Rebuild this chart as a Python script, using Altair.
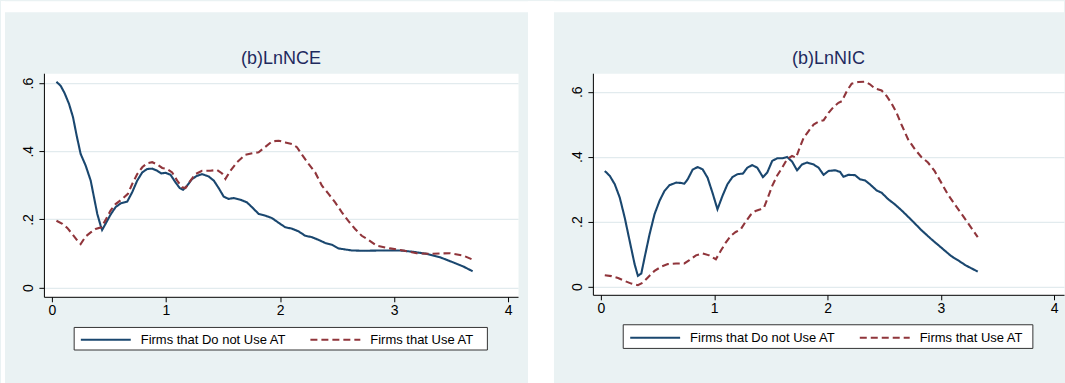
import altair as alt
import pandas as pd

SERIES = ["Firms that Do not Use AT", "Firms that Use AT"]
COLORS = ["#1a476f", "#90353b"]
BG = "#eaf2f3"
FONT = "Liberation Sans"

# ---- Panel 1: (b)LnNCE ----
nce_no_x = [0.04, 0.077, 0.112, 0.15, 0.185, 0.217, 0.252, 0.296, 0.34, 0.369, 0.398, 0.427, 0.44, 0.47,
            0.514, 0.558, 0.602, 0.66, 0.704, 0.748, 0.792, 0.835, 0.879, 0.923, 0.958, 0.996, 1.04, 1.083,
            1.121, 1.15, 1.185, 1.229, 1.273, 1.316, 1.375, 1.419, 1.462, 1.506, 1.55, 1.594, 1.652, 1.71,
            1.754, 1.813, 1.871, 1.929, 1.988, 2.046, 2.104, 2.162, 2.221, 2.279, 2.337, 2.396, 2.454, 2.512,
            2.57, 2.629, 2.731, 2.906, 3.052, 3.168, 3.285, 3.402, 3.518, 3.606, 3.688]
nce_no_y = [0.604, 0.592, 0.570, 0.539, 0.5, 0.446, 0.392, 0.358, 0.314, 0.265, 0.216, 0.182, 0.169, 0.187,
            0.214, 0.236, 0.247, 0.252, 0.28, 0.314, 0.338, 0.348, 0.349, 0.343, 0.335, 0.337, 0.331, 0.309,
            0.292, 0.287, 0.299, 0.319, 0.328, 0.333, 0.326, 0.314, 0.292, 0.267, 0.26, 0.263, 0.258, 0.25,
            0.236, 0.216, 0.211, 0.204, 0.19, 0.177, 0.173, 0.165, 0.152, 0.148, 0.14, 0.131, 0.126, 0.115,
            0.112, 0.109, 0.108, 0.109, 0.109, 0.105, 0.099, 0.089, 0.074, 0.062, 0.048]
nce_at_x = [0.04, 0.092, 0.135, 0.179, 0.223, 0.252, 0.296, 0.34, 0.383, 0.433, 0.47, 0.514, 0.558, 0.617,
            0.666, 0.704, 0.748, 0.792, 0.835, 0.879, 0.923, 0.967, 1.01, 1.054, 1.098, 1.142, 1.171, 1.215,
            1.258, 1.316, 1.389, 1.448, 1.492, 1.521, 1.565, 1.623, 1.696, 1.769, 1.812, 1.871, 1.929, 1.988,
            2.046, 2.104, 2.148, 2.192, 2.25, 2.308, 2.367, 2.425, 2.483, 2.542, 2.6, 2.658, 2.716, 2.775,
            2.847, 2.964, 3.081, 3.197, 3.314, 3.489, 3.606, 3.688]
nce_at_y = [0.196, 0.187, 0.175, 0.157, 0.138, 0.128, 0.15, 0.162, 0.172, 0.177, 0.198, 0.226, 0.245, 0.26,
            0.275, 0.304, 0.333, 0.353, 0.365, 0.368, 0.361, 0.351, 0.348, 0.338, 0.314, 0.294, 0.292, 0.314,
            0.333, 0.343, 0.343, 0.345, 0.335, 0.319, 0.343, 0.368, 0.39, 0.395, 0.397, 0.413, 0.429, 0.431,
            0.426, 0.421, 0.412, 0.39, 0.363, 0.338, 0.299, 0.275, 0.25, 0.221, 0.195, 0.172, 0.152, 0.14,
            0.123, 0.115, 0.109, 0.101, 0.099, 0.101, 0.094, 0.082]

# ---- Panel 2: (b)LnNIC ----
nic_no_x = [0.035, 0.079, 0.123, 0.167, 0.211, 0.254, 0.298, 0.327, 0.357, 0.386, 0.43, 0.474, 0.518, 0.561,
            0.605, 0.664, 0.708, 0.737, 0.766, 0.81, 0.854, 0.898, 0.942, 0.985, 1.029, 1.073, 1.117, 1.161,
            1.205, 1.254, 1.292, 1.336, 1.38, 1.43, 1.468, 1.512, 1.556, 1.6, 1.643, 1.687, 1.731, 1.775,
            1.819, 1.877, 1.921, 1.965, 2.009, 2.067, 2.111, 2.14, 2.184, 2.243, 2.287, 2.331, 2.374, 2.433,
            2.477, 2.535, 2.594, 2.652, 2.74, 2.827, 2.915, 3.003, 3.09, 3.15, 3.22, 3.325]
nic_no_y = [0.356, 0.341, 0.315, 0.274, 0.212, 0.141, 0.069, 0.033, 0.04, 0.089, 0.161, 0.223, 0.264, 0.294,
            0.312, 0.32, 0.319, 0.317, 0.33, 0.36, 0.368, 0.361, 0.335, 0.289, 0.238, 0.279, 0.315, 0.337,
            0.346, 0.348, 0.366, 0.374, 0.366, 0.337, 0.351, 0.387, 0.395, 0.395, 0.399, 0.385, 0.358, 0.376,
            0.382, 0.376, 0.366, 0.344, 0.356, 0.358, 0.353, 0.338, 0.344, 0.343, 0.33, 0.327, 0.315, 0.296,
            0.289, 0.269, 0.253, 0.235, 0.205, 0.174, 0.146, 0.12, 0.094, 0.081, 0.065, 0.046]
nic_at_x = [0.035, 0.094, 0.152, 0.211, 0.269, 0.327, 0.371, 0.415, 0.474, 0.532, 0.591, 0.664, 0.737, 0.781,
            0.839, 0.898, 0.956, 1.015, 1.058, 1.102, 1.146, 1.19, 1.234, 1.278, 1.322, 1.365, 1.409, 1.439,
            1.468, 1.512, 1.556, 1.6, 1.643, 1.687, 1.722, 1.76, 1.789, 1.833, 1.877, 1.921, 1.965, 2.009,
            2.053, 2.096, 2.126, 2.17, 2.213, 2.272, 2.331, 2.374, 2.418, 2.477, 2.521, 2.565, 2.609, 2.652,
            2.711, 2.77, 2.827, 2.886, 2.944, 3.003, 3.061, 3.12, 3.18, 3.25, 3.325]
nic_at_y = [0.035, 0.032, 0.026, 0.017, 0.009, 0.004, 0.012, 0.028, 0.048, 0.061, 0.069, 0.071, 0.071, 0.081,
            0.096, 0.102, 0.096, 0.084, 0.11, 0.135, 0.156, 0.168, 0.176, 0.2, 0.221, 0.233, 0.238, 0.243,
            0.269, 0.31, 0.342, 0.366, 0.392, 0.402, 0.397, 0.433, 0.458, 0.479, 0.499, 0.508, 0.512, 0.535,
            0.553, 0.566, 0.571, 0.602, 0.625, 0.63, 0.631, 0.623, 0.61, 0.604, 0.587, 0.564, 0.535, 0.499,
            0.453, 0.423, 0.399, 0.382, 0.356, 0.32, 0.284, 0.254, 0.225, 0.19, 0.152]

X_TICKS = [0, 1, 2, 3, 4]
Y_TICKS = [0, 0.2, 0.4, 0.6]
GRID = "#e2ebee"


def make_df(xa, ya, xb, yb):
    a = pd.DataFrame({"x": xa, "y": ya, "series": SERIES[0]})
    b = pd.DataFrame({"x": xb, "y": yb, "series": SERIES[1]})
    return pd.concat([a, b], ignore_index=True)


ONE = pd.DataFrame({"k": [0]})


def box(x1, x2, y1, y2, fill, stroke="transparent", sw=0):
    return alt.Chart(ONE).mark_rect(fill=fill, stroke=stroke, strokeWidth=sw, clip=False).encode(
        x=alt.value(x1), x2=alt.value(x2), y=alt.value(y1), y2=alt.value(y2)
    )


def legend(lx, ly):
    return alt.Legend(title=None, orient="none", legendX=lx, legendY=ly,
                      direction="horizontal", columns=2, columnPadding=20,
                      symbolType="stroke", symbolSize=2500, symbolStrokeWidth=2,
                      labelFontSize=13, labelFont=FONT, labelColor="#000000",
                      labelOffset=9, padding=0)


def panel(df, title, ydom, w, h, lx, ly, boxcoords, toffset, extra=()):
    lines = alt.Chart(df).mark_line(strokeWidth=2.1).encode(
        x=alt.X("x:Q", title=None,
                scale=alt.Scale(domain=[-0.07, 4.086], nice=False, zero=False),
                axis=alt.Axis(values=X_TICKS, format="d", grid=False, labelPadding=2,
                              labelFontSize=14, labelFont=FONT, labelColor="#000000")),
        y=alt.Y("y:Q", title=None,
                scale=alt.Scale(domain=ydom, nice=False, zero=False),
                axis=alt.Axis(values=Y_TICKS, grid=True, labelAngle=270, labelAlign="center",
                              labelBaseline="bottom", labelPadding=3,
                              labelFontSize=14, labelFont=FONT, labelColor="#000000",
                              labelExpr="datum.value == 0 ? '0' : '.' + round(datum.value * 10)")),
        color=alt.Color("series:N", scale=alt.Scale(domain=SERIES, range=COLORS),
                        legend=legend(lx, ly)),
        strokeDash=alt.StrokeDash("series:N", scale=alt.Scale(domain=SERIES, range=[[1, 0], [7, 4]]),
                                  legend=legend(lx, ly)),
    )
    bx = box(*boxcoords, fill="white", stroke="#333333", sw=1)
    layers = list(extra) + [bx, lines]
    return alt.layer(*layers).properties(
        width=w, height=h,
        title=alt.TitleParams(text=title, fontSize=18, font=FONT, fontWeight="normal",
                              color="#1e2a5e", anchor="middle", frame="group",
                              baseline="alphabetic", offset=toffset),
    )


# white gaps around the grey graph regions (relative to the left plot area)
strips = [
    box(-43, -39, -72, 311, "white"),
    box(-43, 1022, -72, -61, "white"),
    box(485, 511, -72, 311, "white"),
]

left = panel(make_df(nce_no_x, nce_no_y, nce_at_x, nce_at_y), "(b)LnNCE", [-0.027, 0.629],
             475, 224, 36, 241, (30.3, 444.3, 254.7, 277.3), -81, extra=strips)
right = panel(make_df(nic_no_x, nic_no_y, nic_at_x, nic_at_y), "(b)LnNIC", [-0.0255, 0.657],
              472, 222, 36.4, 239, (30.4, 440.8, 252, 275.7), -9)

chart = alt.hconcat(left, right, spacing=75, bounds="flush").resolve_scale(
    color="independent", strokeDash="independent"
).resolve_legend(
    color="independent", strokeDash="independent"
).properties(
    background=BG, padding=0
).configure_view(
    fill="white", stroke="transparent"
).configure_axis(
    domainColor="#000000", domainWidth=1, tickColor="#000000", tickSize=5, tickWidth=1,
    labelFont=FONT, labelFontSize=14, labelColor="#000000",
    gridColor=GRID, gridWidth=1.2
)

chart.save("out.html", embed_options={"renderer": "svg", "actions": False})
